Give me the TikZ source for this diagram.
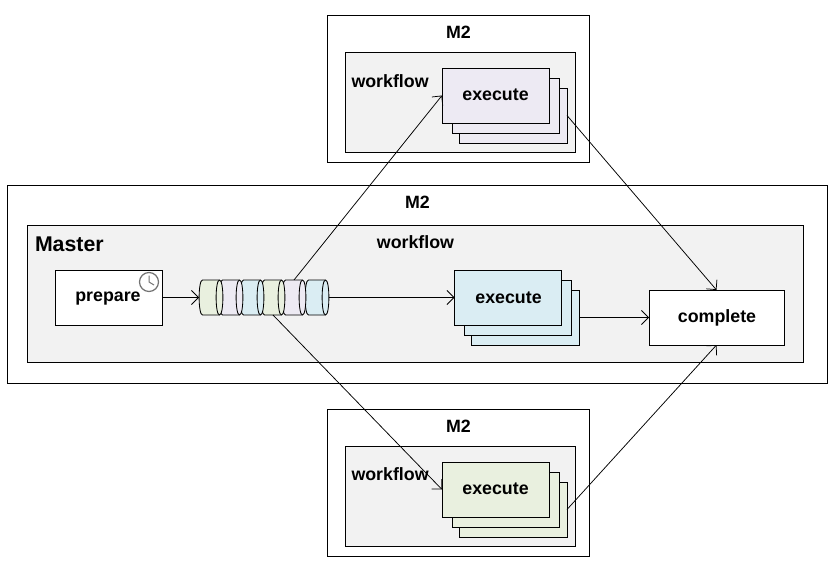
\documentclass[tikz,border=0pt]{standalone}
\usepackage{fontspec}
\setmainfont{Liberation Sans}
\usetikzlibrary{arrows.meta}
\definecolor{panelgray}{HTML}{F2F2F2}
\definecolor{lilac}{HTML}{EDEAF3}
\definecolor{skyblue}{HTML}{DAEDF3}
\definecolor{palegreen}{HTML}{E9F0DF}
\tikzset{
  x=1pt,y=-1pt,
  every node/.style={inner sep=0pt,outer sep=0pt,font=\bfseries\fontsize{17.8}{20}\selectfont},
  boxed/.style args={#1x#2}{draw=black,line width=.8pt,rectangle,minimum width=#1pt,minimum height=#2pt},
  host/.style={boxed=#1,fill=white},
  panel/.style={boxed=#1,fill=panelgray},
  task/.style={boxed=107x55,fill=white},
  layerA/.style={boxed=107x55,fill=#1},
  layerB/.style={boxed=107x55,fill=#1},
  layerC/.style={boxed=108x55,fill=#1},
  link/.style={draw=black,line width=.75pt,-{Straight Barb[length=7pt,width=14pt,line width=.75pt]}},
  drumbody/.style={draw=black,line width=.85pt,fill=#1},
  slot/.style={rectangle,minimum width=24pt,minimum height=35pt},
}
% A horizontal drum: named slot node plus a body with a visible right end cap.
% Arguments: name, centre x, fill colour.
\newcommand{\queuedrum}[3]{%
  \node[slot] (#1) at (#2,297.5) {};
  \draw[drumbody=#3,line join=round]
    ([xshift=3.5pt]#1.north west) -- ([xshift=-3.5pt]#1.north east)
    .. controls ([xshift=1pt]#1.north east) and ([xshift=1pt]#1.south east) .. ([xshift=-3.5pt]#1.south east)
    -- ([xshift=3.5pt]#1.south west)
    .. controls ([xshift=-1pt]#1.south west) and ([xshift=-1pt]#1.north west) .. cycle;
  \draw[line width=.85pt]
    ([xshift=-3.5pt]#1.north east)
    .. controls ([xshift=-8pt]#1.north east) and ([xshift=-8pt]#1.south east) .. ([xshift=-3.5pt]#1.south east);
}
\begin{document}
\begin{tikzpicture}
\useasboundingbox (0,0) rectangle (834,572);
\fill[white] (0,0) rectangle (834,572);

% upper worker
\node[host=262x147] (hostT) at (458,88.5) {};
\node[panel=230x100] (panelT) at (460,102) {};
\node (labelT) at (458.5,32) {M2};
\node[anchor=west] (flowT) at (351.5,81) {workflow};
\node[layerC=lilac] (execTc) at (513,115.5) {};
\node[layerB=lilac] (execTb) at (505.5,105.5) {};
\node[layerA=lilac] (execT) at (495.5,95.5) {};
\node (execTtext) at (495.5,94.5) {execute};

% master host
\node[host=820x198] (hostM) at (417,284) {};
\node[panel=776x137] (panelM) at (415,293.5) {};
\node (labelM) at (417.5,202) {M2};
\node (flowM) at (415.5,242) {workflow};
\node[anchor=west,font=\bfseries\fontsize{21.3}{24}\selectfont] (master) at (35,244) {Master};
\node[task] (prepare) at (108.5,297.5) {};
\node (preparetext) at (108,299) {prepare};
\node[circle,draw=black!55,line width=1.2pt,minimum size=19pt,fill=white] (clock) at (149,282) {};
\draw[black!55,line width=1pt] (149,275.5) -- (clock.center) -- (154,285);

% queue of pending tasks; each drum overlaps the one to its right
\queuedrum{q6}{317}{skyblue}
\queuedrum{q5}{294}{lilac}
\queuedrum{q4}{273}{palegreen}
\queuedrum{q3}{252}{skyblue}
\queuedrum{q2}{231}{lilac}
\queuedrum{q1}{211}{palegreen}

% master's own workers
\node[layerC=skyblue] (execMc) at (525.5,317.5) {};
\node[layerB=skyblue] (execMb) at (518,307.5) {};
\node[layerA=skyblue] (execM) at (508,297.5) {};
\node (execMtext) at (508.5,297.5) {execute};
\node[boxed=135x55,fill=white] (complete) at (716.5,317.5) {};
\node (completetext) at (717,318) {complete};

% lower worker
\node[host=262x147] (hostB) at (458,482.5) {};
\node[panel=230x100] (panelB) at (460,496) {};
\node (labelB) at (458.5,426) {M2};
\node[anchor=west] (flowB) at (351.5,474) {workflow};
\node[layerC=palegreen] (execBc) at (513,509.5) {};
\node[layerB=palegreen] (execBb) at (505.5,499.5) {};
\node[layerA=palegreen] (execB) at (495.5,489.5) {};
\node (execBtext) at (495.5,488.5) {execute};

% connectors
\draw[link] (prepare.east) -- (q1.west);
\draw[link] (q6.east) -- (execM.west);
\draw[link] (q5.north) -- (execT.west);
\draw[link] (q4.south) -- (execB.west);
\draw[link] (execMc.east) -- (complete.west);
\draw[link] (execTc.east) -- (complete.north);
\draw[link] (execBc.east) -- (complete.south);
\end{tikzpicture}
\end{document}
